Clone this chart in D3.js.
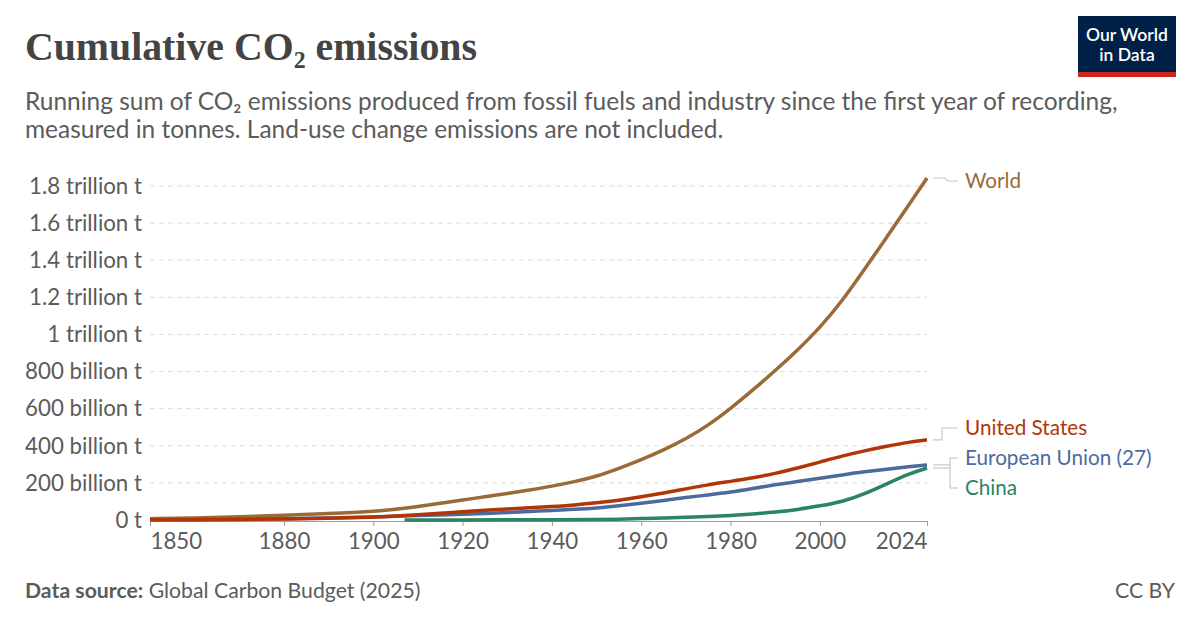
<!DOCTYPE html>
<html><head><meta charset="utf-8">
<script src="https://cdn.jsdelivr.net/npm/d3@7"></script>
<style>
html,body{margin:0;padding:0;background:#fff;}
svg{display:block;font-family:Lato,"Noto Sans",sans-serif;}
</style></head>
<body>
<svg id="chart" width="1200" height="627"></svg>
<script>
// ---- data (billion tonnes, cumulative) ----
const years = [1850,1860,1870,1880,1890,1900,1905,1910,1915,1920,1925,1930,1935,1940,1945,1950,1955,1960,1965,1970,1975,1980,1985,1990,1995,2000,2005,2010,2015,2020,2024];
const worldValues = [7,11,17,26,35,46,57,72,90,108,125,143,161,182,206,235,278,325,377,437,510,600,700,805,915,1035,1180,1350,1525,1700,1843];
const usValues    = [1,2,3,5,9,15,21,28,36,45,52,60,66,72,81,92,106,125,145,168,190,208,227,250,280,312,345,373,398,420,432];
const euValues    = [1,2,4,7,11,16,20,24,27,31,35,40,46,52,57,64,76,90,105,121,135,150,170,190,207,225,243,260,274,288,297];
const chinaYears  = [1907,1920,1930,1940,1950,1955,1960,1965,1970,1975,1980,1985,1990,1995,2000,2005,2010,2015,2020,2024];
const chinaValues = [0,0.5,1,1.5,2.5,4,8,11,14,19,24,32,42,56,76,98,140,195,250,280];
const yTicks = [0,200,400,600,800,1000,1200,1400,1600,1800];
const yTickLabels = ["0 t","200 billion t","400 billion t","600 billion t","800 billion t","1 trillion t","1.2 trillion t","1.4 trillion t","1.6 trillion t","1.8 trillion t"];
const xTicks = [1850,1880,1900,1920,1940,1960,1980,2000,2024];
const seriesColors = {"World":"#9a6a37","United States":"#b13507","European Union (27)":"#4c6a9c","China":"#2a8465"};

const series = [
  {name:"World", pts: years.map((y,i)=>({x:y,v:worldValues[i]}))},
  {name:"European Union (27)", pts: years.map((y,i)=>({x:y,v:euValues[i]}))},
  {name:"China", pts: chinaYears.map((y,i)=>({x:y,v:chinaValues[i]}))},
  {name:"United States", pts: years.map((y,i)=>({x:y,v:usValues[i]}))}
];

const svg = d3.select("#chart");
const grey = "#5b5b5b";

function fitSize(str, w, weight){
  const t = svg.append("text").attr("font-size",20).attr("font-weight",weight||"normal").text(str);
  const l = t.node().getComputedTextLength(); t.remove();
  return 20*w/l;
}

// ---- header ----
const title = svg.append("text").attr("x",25).attr("y",60)
  .attr("fill","#444").attr("font-family","'Liberation Serif','DejaVu Serif',serif").attr("font-weight","bold")
  .attr("font-size",40);
title.append("tspan").text("Cumulative CO");
title.append("tspan").text("₂");
title.append("tspan").text(" emissions");
const tw = title.node().getComputedTextLength();
title.attr("font-size", 40*452/tw);

const subLine1 = "Running sum of CO₂ emissions produced from fossil fuels and industry since the first year of recording,";
const subSize = fitSize(subLine1, 1093);
const sub = svg.append("g").attr("fill",grey).attr("font-size",subSize);
sub.append("text").attr("x",25).attr("y",110).text(subLine1);
sub.append("text").attr("x",25).attr("y",138).text("measured in tonnes. Land-use change emissions are not included.");

// logo
const logo = svg.append("g");
logo.append("rect").attr("x",1078).attr("y",16).attr("width",98).attr("height",61).attr("fill","#002147");
logo.append("rect").attr("x",1078).attr("y",72).attr("width",98).attr("height",5).attr("fill","#ce261e");
logo.append("text").attr("x",1127).attr("y",41).attr("text-anchor","middle").attr("fill","#fff")
  .attr("font-size",17.5).attr("font-weight",600).text("Our World");
logo.append("text").attr("x",1127).attr("y",61).attr("text-anchor","middle").attr("fill","#fff")
  .attr("font-size",17.5).attr("font-weight",600).text("in Data");

// ---- scales ----
const x = d3.scaleLinear().domain([1850,2024]).range([150,927]);
const y = d3.scaleLinear().domain([0,1800]).range([520,186]);
const tickSize = fitSize("800 billion t", 117);

const yAxis = svg.append("g");
yTicks.forEach((t,i)=>{
  if(t>0){
    yAxis.append("line").attr("x1",150).attr("x2",927).attr("y1",y(t)).attr("y2",y(t))
      .attr("stroke","#dcdcdc").attr("stroke-width",1).attr("stroke-dasharray","5,4");
  }
  yAxis.append("text").attr("x",142).attr("y",y(t)).attr("dy","0.35em").attr("text-anchor","end")
    .attr("fill",grey).attr("font-size",tickSize).text(yTickLabels[i]);
});

const xa = svg.append("g").attr("transform","translate(0,521)")
  .call(d3.axisBottom(x).tickValues(xTicks).tickFormat(d3.format("d")).tickSize(5).tickSizeOuter(0));
xa.select(".domain").attr("stroke","#a0a0a0");
xa.selectAll(".tick line").attr("stroke","#a0a0a0");
xa.selectAll(".tick text").attr("fill",grey).attr("font-size",tickSize).attr("font-family","Lato")
  .attr("y",28).attr("dy","0")
  .attr("text-anchor",(d,i)=> i===0 ? "start" : (i===xTicks.length-1 ? "end" : "middle"));

// lines
const line = d3.line().x(d=>x(d.x)).y(d=>y(d.v)).curve(d3.curveBasis);
svg.append("g").selectAll("path").data(series).join("path")
  .attr("d",d=>line(d.pts)).attr("fill","none")
  .attr("stroke",d=>seriesColors[d.name]).attr("stroke-width",3.5)
  .attr("stroke-linejoin","round").attr("stroke-linecap","butt");

// labels with connectors
const lab = svg.append("g").attr("font-size",20.7);
const endY = n => { const s = series.find(d=>d.name===n); return y(s.pts[s.pts.length-1].v); };
const conn = svg.append("g").attr("stroke","#c8c8c8").attr("fill","none").attr("stroke-width",1.2);
function label(name, ly){
  lab.append("text").attr("x",965).attr("y",ly).attr("dy","0.35em").attr("fill",seriesColors[name]).text(name);
}
{ const ey = endY("World"), ly = 181;
  conn.append("path").attr("d",`M933,${ey}H945L948,${ly}H958`);
  label("World", ly); }
{ const ey = endY("United States"), ly = 428;
  conn.append("path").attr("d",`M933,${ey}H942V${ly}H958`);
  label("United States", ly); }
{ const e1 = endY("European Union (27)"), e2 = endY("China");
  const l1 = 458, l2 = 488;
  conn.append("path").attr("d",`M933,${e1}H950`);
  conn.append("path").attr("d",`M933,${e2}H950`);
  conn.append("path").attr("d",`M950,${l1}V${l2}`);
  conn.append("path").attr("d",`M950,${l1}H958`);
  conn.append("path").attr("d",`M950,${l2}H958`);
  label("European Union (27)", l1); label("China", l2); }

// footer
const footSize = fitSize("CC BY", 60);
const f = svg.append("text").attr("x",25).attr("y",598).attr("fill",grey).attr("font-size",footSize);
f.append("tspan").attr("font-weight","bold").text("Data source:");
f.append("tspan").text(" Global Carbon Budget (2025)");
svg.append("text").attr("x",1175).attr("y",598).attr("text-anchor","end").attr("fill",grey).attr("font-size",footSize).text("CC BY");
</script>
</body></html>
